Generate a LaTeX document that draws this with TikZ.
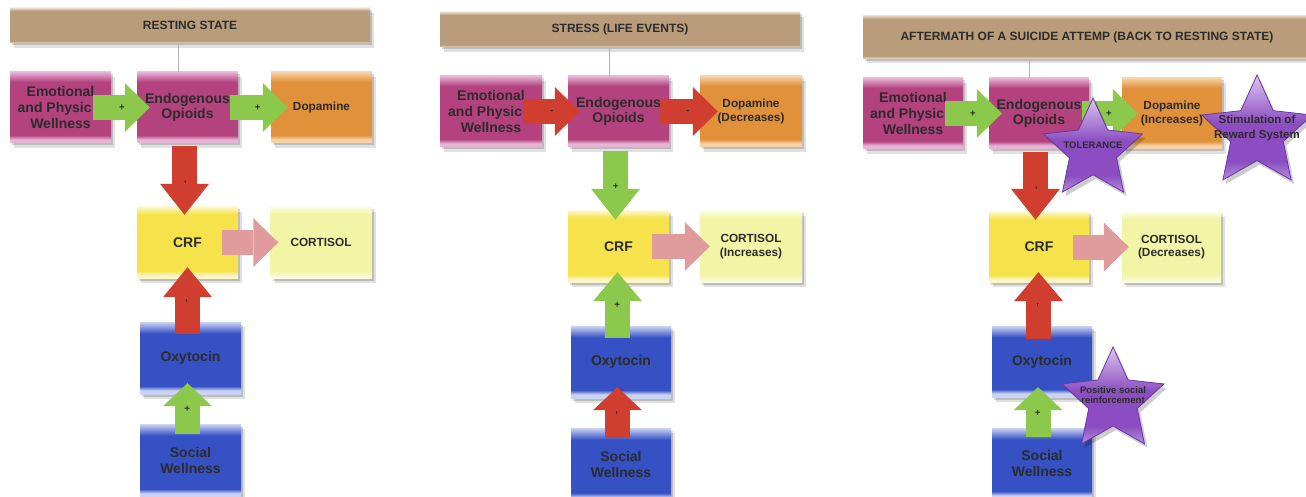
\documentclass[tikz,border=0pt]{standalone}
\usepackage{fontspec}
\setmainfont{Liberation Sans}
\usetikzlibrary{arrows.meta,shapes.geometric,shadows}

\definecolor{txt}{HTML}{2C2C2C}
\definecolor{magM}{HTML}{B3427F}
\definecolor{magL}{HTML}{E6B5D5}
\definecolor{orM}{HTML}{E0913A}
\definecolor{orL}{HTML}{F6D2A6}
\definecolor{yM}{HTML}{F6E34B}
\definecolor{yL}{HTML}{FCF6C8}
\definecolor{lyM}{HTML}{F3F5A6}
\definecolor{lyL}{HTML}{FCFCE6}
\definecolor{bM}{HTML}{3551C4}
\definecolor{bL}{HTML}{CBD3F3}
\definecolor{tanM}{HTML}{B99D7B}
\definecolor{tanL}{HTML}{E6DACA}
\definecolor{purM}{HTML}{8B4DC1}
\definecolor{purL}{HTML}{DCC6F0}
\definecolor{purB}{HTML}{B58FDC}
\definecolor{purD}{HTML}{6C36A2}
\definecolor{arrG}{HTML}{8CC84B}
\definecolor{arrR}{HTML}{D03E30}
\definecolor{arrP}{HTML}{E09C9C}

\pgfdeclareverticalshading{magshade}{100bp}{color(0bp)=(magL); color(25bp)=(magL); color(27.5bp)=(magL); color(30.5bp)=(magM); color(68bp)=(magM); color(75bp)=(magL); color(100bp)=(magL)}
\pgfdeclareverticalshading{orshade}{100bp}{color(0bp)=(orL); color(25bp)=(orL); color(27.5bp)=(orL); color(30.5bp)=(orM); color(68bp)=(orM); color(75bp)=(orL); color(100bp)=(orL)}
\pgfdeclareverticalshading{yshade}{100bp}{color(0bp)=(yL); color(25bp)=(yL); color(27bp)=(yL); color(30bp)=(yM); color(70bp)=(yM); color(75bp)=(yL); color(100bp)=(yL)}
\pgfdeclareverticalshading{lyshade}{100bp}{color(0bp)=(lyL); color(25bp)=(lyL); color(30bp)=(lyM); color(70bp)=(lyM); color(75bp)=(lyL); color(100bp)=(lyL)}
\pgfdeclareverticalshading{bshade}{100bp}{color(0bp)=(bL); color(25bp)=(bL); color(27.5bp)=(bL); color(30.5bp)=(bM); color(67bp)=(bM); color(75bp)=(bL); color(100bp)=(bL)}
\pgfdeclareverticalshading{tanshade}{100bp}{color(0bp)=(tanL); color(25bp)=(tanL); color(28bp)=(tanM); color(71bp)=(tanM); color(75bp)=(tanL); color(100bp)=(tanL)}
\pgfdeclareverticalshading{purshade}{100bp}{color(0bp)=(purB); color(25bp)=(purB); color(34bp)=(purM); color(52bp)=(purM); color(75bp)=(purL); color(100bp)=(purL)}

\tikzset{
  shadowed/.style={drop shadow={shadow xshift=2pt,shadow yshift=-2.5pt,opacity=.16,fill=black},
                   drop shadow={shadow xshift=4pt,shadow yshift=-5pt,opacity=.12,fill=black}},
  diagbox/.style={rectangle, minimum width=101pt, minimum height=71pt, inner sep=0pt, align=center,
                  text=txt, font=\fontsize{14}{15.7}\selectfont\bfseries, shade, shadowed},
  magbox/.style={diagbox, shading=magshade},
  orbox/.style={diagbox, shading=orshade, font=\fontsize{11.8}{13.3}\selectfont\bfseries},
  ybox/.style={diagbox, shading=yshade},
  lybox/.style={diagbox, shading=lyshade, font=\fontsize{11.8}{13.3}\selectfont\bfseries},
  bluebox/.style={diagbox, shading=bshade},
  titlebar/.style={rectangle, minimum height=35pt, inner sep=0pt, text=txt,
                   font=\fontsize{12}{14}\selectfont\bfseries, shade, shading=tanshade, shadowed},
  blk/.style={line width=25pt, line cap=butt, -{Triangle[width=49pt,length=#1,line width=0pt]}},
  blk/.default=25pt,
  garr/.style={arrG, blk=#1}, garr/.default=25pt,
  rarr/.style={arrR, blk=#1}, rarr/.default=25pt,
  parr/.style={arrP, blk=#1}, parr/.default=25pt,
  sign/.style={font=\fontsize{9.5}{9.5}\selectfont\bfseries, text=txt, sloped, inner sep=0pt},
  starbox/.style={star, star points=5, star point ratio=2.1, inner sep=0pt, shade, shading=purshade,
                  draw=purD, line width=.8pt,
                  drop shadow={shadow xshift=3pt, shadow yshift=-4pt, opacity=.2, fill=black}},
  startext/.style={text=txt, align=center, inner sep=0pt},
  link/.style={draw=gray!60, line width=0.8pt},
}

\begin{document}
\begin{tikzpicture}[x=1pt,y=-1pt]
\path[use as bounding box] (0,0) rectangle (1306,497);
\clip (0,0) rectangle (1306,497);

% ---------------- Panel 1 : resting state ----------------
\node[titlebar, minimum width=360pt] (t1) at (190,25.5) {RESTING STATE};
\node[magbox] (emo1) at (60.5,107.5) {Emotional\\and Physic\hphantom{al}\\Wellness};
\node[magbox] (endo1) at (187.5,107.5) {Endogenous\\Opioids};
\node[orbox] (dop1) at (321.5,107.5) {Dopamine};
\node[ybox] (crf1) at (187.5,242.5) {CRF};
\node[lybox] (cor1) at (321,242.5) {CORTISOL};
\node[bluebox, minimum height=72pt] (oxy1) at (190.5,358) {Oxytocin};
\node[bluebox, minimum height=73pt] (soc1) at (190.5,460.5) {Social\\Wellness};
\coordinate (l1) at ([xshift=-9.5pt]endo1.north);
\draw[link] (l1) -- (l1 |- t1.south);

\draw[garr, shorten <=-18pt, shorten >=-13pt] (emo1.east) -- (endo1.west) node[sign, pos=.42] {+};
\draw[garr, shorten <=-8pt, shorten >=-17pt] (endo1.east) -- (dop1.west) node[sign, pos=.6] {+};
\draw[rarr=31pt, shorten <=3pt, shorten >=-8pt] ([xshift=-3pt]endo1.south) -- ([xshift=-3pt]crf1.north) node[sign, pos=.61] {-};
\draw[parr, shorten <=-16pt, shorten >=-8pt] (crf1.east) -- (cor1.west);
\draw[rarr=30pt, shorten <=-12pt, shorten >=-11pt] ([xshift=-3pt]oxy1.north) -- (crf1.south) node[sign, pos=.48] {-};
\draw[garr=23pt, shorten <=-10pt, shorten >=-11pt] ([xshift=-3pt]soc1.north) -- ([xshift=-3pt]oxy1.south) node[sign, pos=.5] {+};

% ---------------- Panel 2 : stress ----------------
\node[titlebar, minimum width=360pt] (t2) at (620,29.5) {STRESS (LIFE EVENTS)};
\node[magbox, minimum width=102pt] (emo2) at (491,111.5) {Emotional\\and Physic\hphantom{al}\\Wellness};
\node[magbox] (endo2) at (618.5,111.5) {Endogenous\\Opioids};
\node[orbox, minimum width=102pt] (dop2) at (751,111.5) {Dopamine\\(Decreases)};
\node[ybox] (crf2) at (618.5,246.5) {CRF};
\node[lybox, minimum width=102pt] (cor2) at (751,246.5) {CORTISOL\\(Increases)};
\node[bluebox, minimum width=100pt, minimum height=72pt] (oxy2) at (621,362) {Oxytocin};
\node[bluebox, minimum width=100pt, minimum height=73pt] (soc2) at (621,464.5) {Social\\Wellness};
\coordinate (l2) at ([xshift=-9.5pt]endo2.north);
\draw[link] (l2) -- (l2 |- t2.south);

\draw[rarr, shorten <=-19pt, shorten >=-12pt] (emo2.east) -- (endo2.west) node[sign, pos=.38] {-};
\draw[rarr, shorten <=-9pt, shorten >=-18pt] (endo2.east) -- (dop2.west) node[sign, pos=.61] {-};
\draw[garr=31pt, shorten <=4pt, shorten >=-9pt] ([xshift=-3pt]endo2.south) -- ([xshift=-3pt]crf2.north) node[sign, pos=.61] {+};
\draw[parr, shorten <=-17pt, shorten >=-10pt] (crf2.east) -- (cor2.west);
\draw[garr=29pt, shorten <=-12pt, shorten >=-10pt] ([xshift=-3.5pt]oxy2.north) -- ([xshift=-1pt]crf2.south) node[sign, pos=.48] {+};
\draw[rarr=23pt, shorten <=-10pt, shorten >=-11pt] ([xshift=-3.5pt]soc2.north) -- ([xshift=-3.5pt]oxy2.south) node[sign, pos=.5] {-};

% ---------------- Panel 3 : aftermath ----------------
\node[titlebar, minimum width=448pt, minimum height=43pt] (t3) at (1087,37) {AFTERMATH OF A SUICIDE ATTEMP (BACK TO RESTING STATE)};
\node[magbox, minimum width=100pt] (emo3) at (913,113.5) {Emotional\\and Physic\hphantom{al}\\Wellness};
\node[magbox, minimum width=100pt] (endo3) at (1039,113.5) {Endogenous\\Opioids};
\node[orbox, minimum width=100pt] (dop3) at (1172,113.5) {Dopamine\\(Increases)};
\node[ybox, minimum width=100pt, minimum height=70pt] (crf3) at (1039,247) {CRF};
\node[lybox, minimum width=99pt, minimum height=70pt] (cor3) at (1171.5,247) {CORTISOL\\(Decreases)};
\node[bluebox, minimum width=100pt] (oxy3) at (1042,361.5) {Oxytocin};
\node[bluebox, minimum width=100pt] (soc3) at (1042,463.5) {Social\\Wellness};
\coordinate (l3) at ([xshift=-9.5pt]endo3.north);
\draw[link] (l3) -- (l3 |- t3.south);

\draw[garr, shorten <=-18pt, shorten >=-13pt] (emo3.east) -- (endo3.west) node[sign, pos=.38] {+};
\draw[garr, shorten <=-7pt, shorten >=-16pt] (endo3.east) -- (dop3.west) node[sign, pos=.6] {+};
\draw[rarr=31pt, shorten <=3pt, shorten >=-8pt] ([xshift=-3.5pt]endo3.south) -- ([xshift=-3.5pt]crf3.north) node[sign, pos=.62] {-};
\draw[parr, shorten <=-16pt, shorten >=-7pt] (crf3.east) -- (cor3.west);
\draw[rarr=29pt, shorten <=-13pt, shorten >=-10pt] ([xshift=-3.5pt]oxy3.north) -- ([xshift=-0.5pt]crf3.south) node[sign, pos=.48] {-};
\draw[garr=23pt, shorten <=-9pt, shorten >=-10pt] ([xshift=-4pt]soc3.north) -- ([xshift=-4pt]oxy3.south) node[sign, pos=.48] {+};

% stars
\node[starbox, minimum size=104pt] (tol) at (1093,150) {};
\node[startext, font=\fontsize{9.5}{10.7}\selectfont\bfseries] (toltxt) at ([yshift=5pt]tol.center) {TOLERANCE};
\node[starbox, minimum size=116pt] (stim) at (1257,133) {};
\node[startext, font=\fontsize{11.5}{14.3}\selectfont\bfseries] (stimtxt) at ([yshift=5pt]stim.center) {Stimulation of\\Reward System};
\node[starbox, minimum size=107pt] (pos) at (1113,400.5) {};
\node[startext, font=\fontsize{9.5}{10.7}\selectfont\bfseries] (postxt) at ([yshift=5.5pt]pos.center) {Positive social\\reinforcement};
\end{tikzpicture}
\end{document}
